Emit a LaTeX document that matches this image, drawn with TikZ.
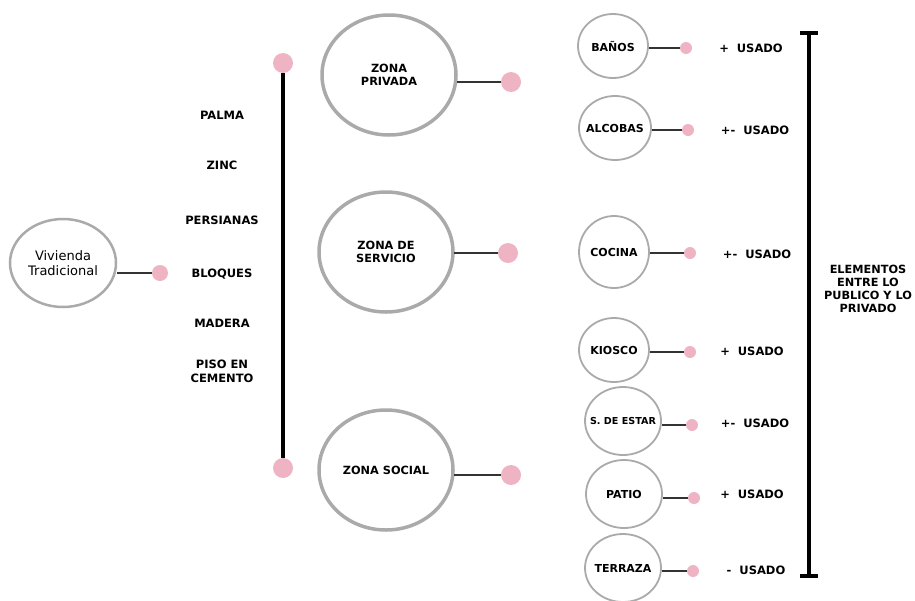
\documentclass[tikz,border=0pt]{standalone}
\usepackage{fontspec}
\setmainfont{DejaVu Sans}
\usetikzlibrary{shapes.geometric}
\definecolor{ringgray}{RGB}{170,170,170}
\definecolor{dotpink}{RGB}{238,180,196}

\begin{document}
\begin{tikzpicture}[x=1pt,y=-1pt,
    zone/.style={ellipse, draw=ringgray, line width=3.5pt, inner sep=0pt,
      minimum width=134pt, minimum height=120pt, align=center,
      font=\bfseries\fontsize{11.3}{13}\selectfont},
    room/.style={ellipse, draw=ringgray, line width=1.8pt, inner ysep=0pt,
      inner xsep=-12pt, minimum width=70pt, minimum height=64pt, align=center,
      font=\bfseries\fontsize{11}{13}\selectfont},
    bigroom/.style={room, minimum width=76pt, minimum height=68pt},
    bigdot/.style={circle, fill=dotpink, inner sep=0pt, minimum size=20pt},
    smalldot/.style={circle, fill=dotpink, inner sep=0pt, minimum size=12pt},
    lbl/.style={align=center, font=\bfseries\fontsize{11.5}{14}\selectfont}]
  \useasboundingbox (0,0) rectangle (915,600);
      \draw
        (63,263) node[ellipse, draw=ringgray, line width=2.5pt, inner sep=0pt,
          minimum width=106pt, minimum height=88pt, align=center,
          font=\fontsize{13}{15}\selectfont] (viv){Vivienda\\Tradicional}
        (160,273) node[circle, fill=dotpink, inner sep=0pt, minimum size=16pt] (vivdot){}
        (222,115) node[lbl] (palma){PALMA}
        (222,165) node[lbl] (zinc){ZINC}
        (222,220) node[lbl] (persianas){PERSIANAS}
        (222,274) node[lbl] (bloques){BLOQUES}
        (222,323) node[lbl] (madera){MADERA}
        (222,371) node[lbl] (piso){PISO EN\\CEMENTO}
        (283,63) node[bigdot] (dtop){}
        (283,468) node[bigdot] (dbot){}
        (389,75) node[zone] (priv){ZONA\\PRIVADA}
        (511,82) node[bigdot] (privdot){}
        (386,252) node[zone] (serv){ZONA DE\\SERVICIO}
        (508,253) node[bigdot] (servdot){}
        (386,470) node[zone] (soc){ZONA SOCIAL}
        (511,475) node[bigdot] (socdot){}
        (613,46) node[room] (banos){BAÑOS}
        (686,48) node[smalldot] (banosdot){}
        (751,48) node[lbl] (u1){+ \ USADO}
        (615,128) node[room, minimum width=72pt] (alcobas){ALCOBAS}
        (688,130) node[smalldot] (alcobasdot){}
        (755,130) node[lbl] (u2){+- \ USADO}
        (614,252) node[room, minimum height=72pt] (cocina){COCINA}
        (690,253) node[smalldot] (cocinadot){}
        (757,254) node[lbl] (u3){+- \ USADO}
        (614,350) node[room] (kiosco){KIOSCO}
        (690,352) node[smalldot] (kioscodot){}
        (752,351) node[lbl] (u4){+ \ USADO}
        (623,421) node[bigroom, font=\bfseries\fontsize{9.6}{11}\selectfont] (estar){S. DE ESTAR}
        (692,425) node[smalldot] (estardot){}
        (755,423) node[lbl] (u5){+- \ USADO}
        (624,494) node[bigroom] (patio){PATIO}
        (694,498) node[smalldot] (patiodot){}
        (752,494) node[lbl] (u6){+ \ USADO}
        (623,568) node[bigroom] (terraza){TERRAZA}
        (693,571) node[smalldot] (terrazadot){}
        (756,570) node[lbl] (u7){- \ USADO}
        (868,289) node[lbl, font=\bfseries\fontsize{11.3}{13}\selectfont] (elem){ELEMENTOS\\ENTRE LO\\PUBLICO Y LO\\PRIVADO};
      \coordinate (btop) at (809,33);
      \coordinate (bbot) at (809,576);
      \begin{scope}[line width=1.2pt, draw=black!80]
        \draw (vivdot) to (vivdot -| viv.east);
        \draw (privdot) to ([xshift=-1pt]privdot -| priv.east);
        \draw (servdot) to ([xshift=-1pt]servdot -| serv.east);
        \draw (socdot) to ([xshift=-1pt]socdot -| soc.east);
        \draw (banosdot) to (banosdot -| banos.east);
        \draw (alcobasdot) to (alcobasdot -| alcobas.east);
        \draw (cocinadot) to (cocinadot -| cocina.east);
        \draw (kioscodot) to (kioscodot -| kiosco.east);
        \draw (estardot) to (estardot -| estar.east);
        \draw (patiodot) to (patiodot -| patio.east);
        \draw (terrazadot) to (terrazadot -| terraza.east);
      \end{scope}
      \begin{scope}[line width=4pt]
        \draw (dtop) to (dbot);
        \draw (btop) to (bbot);
        \draw ([xshift=-9pt]btop) to ([xshift=9pt]btop);
        \draw ([xshift=-9pt]bbot) to ([xshift=9pt]bbot);
      \end{scope}
    \end{tikzpicture}
\end{document}
